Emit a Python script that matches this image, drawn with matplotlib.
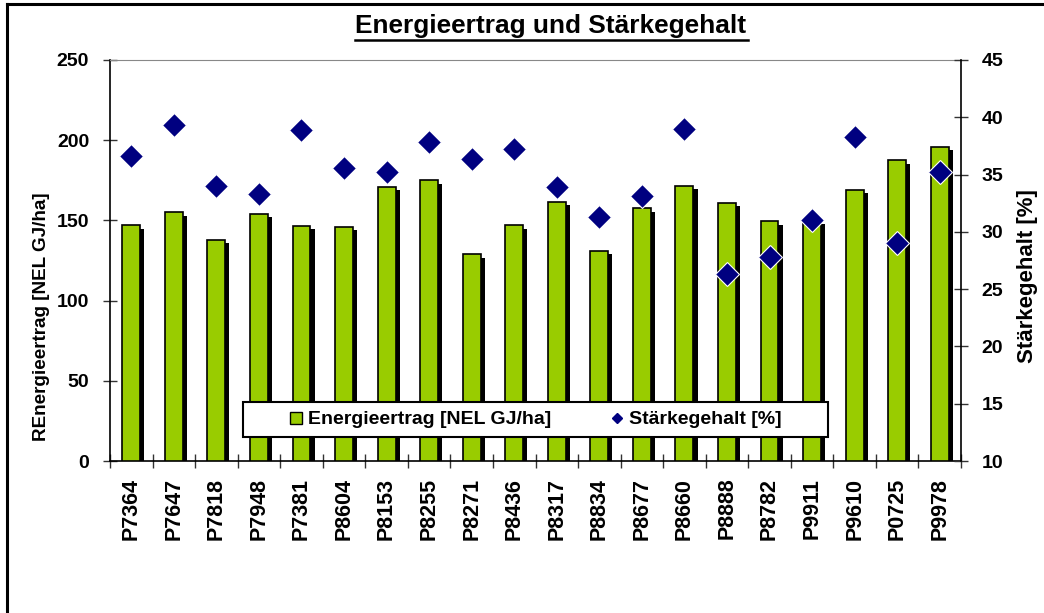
import matplotlib
matplotlib.use("Agg")
import matplotlib.pyplot as plt
import matplotlib.patheffects as pe
from matplotlib.lines import Line2D
from matplotlib.patches import Rectangle
import numpy as np

plt.rcParams['font.family'] = ['Liberation Sans', 'DejaVu Sans']
plt.rcParams['font.weight'] = 'bold'

categories = ["P7364", "P7647", "P7818", "P7948", "P7381", "P8604", "P8153", "P8255",
              "P8271", "P8436", "P8317", "P8834", "P8677", "P8660", "P8888", "P8782",
              "P9911", "P9610", "P0725", "P9978"]
energie = [147, 155, 138, 154, 146.5, 146, 171, 175, 129, 147, 161.5, 131, 157.5,
           171.5, 161, 149.5, 150, 169, 187.5, 196]
staerke = [36.6, 39.3, 34.0, 33.3, 38.9, 35.6, 35.2, 37.8, 36.4, 37.2, 33.9, 31.3,
           33.1, 39.0, 26.3, 27.8, 31.0, 38.3, 29.0, 35.2]

title = "Energieertrag und Stärkegehalt"
ylabel_left = "REnergieertrag [NEL GJ/ha]"
ylabel_right = "Stärkegehalt [%]"
legend_labels = ["Energieertrag [NEL GJ/ha]", "Stärkegehalt [%]"]

W, H = 1044, 613
fig = plt.figure(figsize=(W / 100, H / 100), dpi=100)
fig.patch.set_facecolor('white')

ax = fig.add_axes([110 / W, 1 - 461 / H, (961 - 110) / W, (461 - 60) / H])
x = np.arange(len(categories))
bars = ax.bar(x, energie, width=0.42, color='#99CC00', edgecolor='black', linewidth=1.2,
              zorder=3)
for b in bars:
    b.set_path_effects([pe.SimplePatchShadow(offset=(3, -2.5), shadow_rgbFace='black',
                                             alpha=1.0), pe.Normal()])
ax.set_xlim(-0.5, len(categories) - 0.5)
ax.set_ylim(0, 250)
ax.set_yticks(np.arange(0, 251, 50))
ax.set_xticks(x)
ax.set_xticklabels(categories, rotation=90, fontsize=15.5, fontweight='bold')
ax.set_xticks(np.arange(-0.5, len(categories), 1), minor=True)
ax.tick_params(axis='x', which='major', length=0, pad=12)
ax.tick_params(axis='x', which='minor', direction='inout', length=10, width=1, color='#333333')
ax.tick_params(axis='y', direction='inout', length=10, width=1, labelsize=14, pad=10,
               color='#333333')
for lab in ax.get_yticklabels():
    lab.set_fontweight('bold')
ax.spines['top'].set_color('#888888')
ax.spines['right'].set_visible(False)
for s in ['left', 'bottom']:
    ax.spines[s].set_color('black')
    ax.spines[s].set_linewidth(1.2)

ax2 = ax.twinx()
ax2.plot(x, staerke, linestyle='none', marker='D', markersize=12, color='#000080',
         markeredgecolor='white', markeredgewidth=0.8, zorder=4)
ax2.set_ylim(10, 45)
ax2.set_yticks(np.arange(10, 46, 5))
ax2.tick_params(axis='y', direction='inout', length=10, width=1, labelsize=14, pad=10,
                color='#333333')
for lab in ax2.get_yticklabels():
    lab.set_fontweight('bold')
ax2.spines['top'].set_visible(False)
ax2.spines['left'].set_visible(False)
ax2.spines['bottom'].set_visible(False)
ax2.spines['right'].set_color('black')
ax2.spines['right'].set_linewidth(1.2)

# axis labels
fig.text(42 / W, 1 - 317 / H, ylabel_left, rotation=90, ha='center', va='center',
         fontsize=13.6, fontweight='bold')
fig.text(1028 / W, 1 - 276 / H, ylabel_right, rotation=90, ha='center', va='center',
         fontsize=16, fontweight='bold')

# legend box
box = Rectangle((243 / W, 1 - 437 / H), (828 - 243) / W, (437 - 402) / H,
                transform=fig.transFigure, facecolor='white', edgecolor='black',
                linewidth=1.5, zorder=20)
fig.add_artist(box)
handles = [Line2D([], [], linestyle='none', marker='s', markersize=9, markerfacecolor='#99CC00',
                  markeredgecolor='black', markeredgewidth=1.0),
           Line2D([], [], linestyle='none', marker='D', markersize=5, color='#000080')]
leg = fig.legend(handles, legend_labels, loc='center', ncol=2, frameon=False,
                 bbox_to_anchor=((243 + 828) / 2 / W, 1 - (402 + 437) / 2 / H),
                 prop={'size': 14, 'weight': 'bold'}, handlelength=0.7, handletextpad=0.3,
                 columnspacing=3.0)
leg.set_zorder(21)

# title with underline
t = fig.text(551 / W, 1 - 33 / H, title, ha='center', va='baseline', fontsize=18.9,
             fontweight='bold')
fig.add_artist(Line2D([355 / W, 748 / W], [1 - 40 / H, 1 - 40 / H], color='black',
                      linewidth=1.8, transform=fig.transFigure))

# outer frame (left and top visible)
fig.add_artist(Line2D([7 / W, 7 / W], [0, 1 - 4 / H], color='black', linewidth=2.2,
                      transform=fig.transFigure))
fig.add_artist(Line2D([7 / W, 1], [1 - 4 / H, 1 - 4 / H], color='black', linewidth=2.2,
                      transform=fig.transFigure))

fig.savefig('out.png', dpi=100)
